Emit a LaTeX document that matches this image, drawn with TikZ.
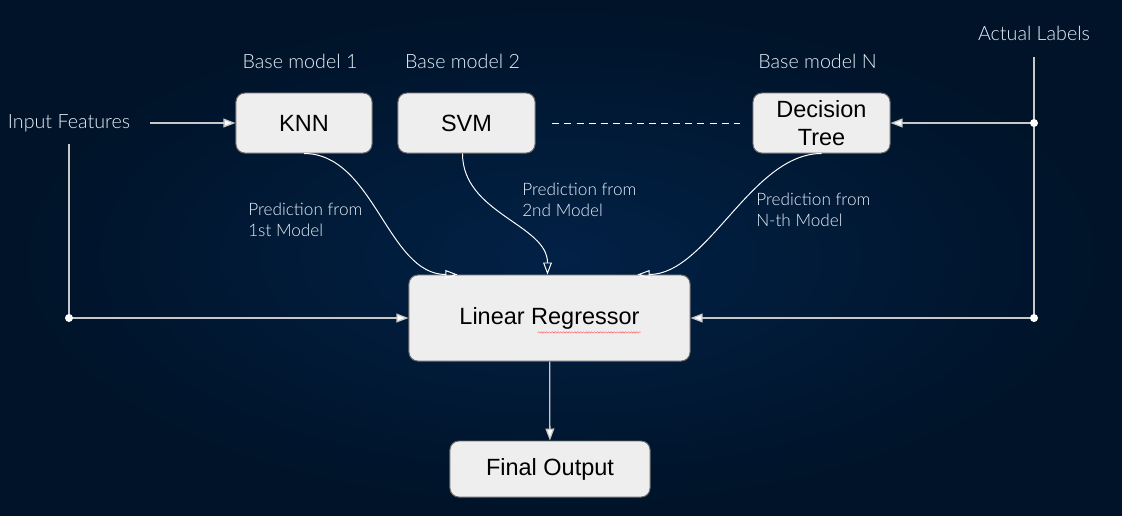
\documentclass[tikz,border=0pt]{standalone}
\usepackage{fontspec}
\setmainfont{Liberation Sans}
\newfontfamily\lblfont{Lato Light}
\usetikzlibrary{arrows.meta,positioning,decorations.pathmorphing}
\definecolor{bgin}{RGB}{2,33,70}
\definecolor{bgout}{RGB}{0,19,40}
\definecolor{boxfill}{RGB}{238,238,238}
\definecolor{boxline}{RGB}{105,105,105}
\definecolor{wire}{RGB}{200,200,200}
\definecolor{lbltext}{RGB}{232,240,250}

\begin{document}
\begin{tikzpicture}[
  x=0.025cm, y=-0.025cm,
  box/.style={rectangle, draw=boxline, fill=boxfill, rounded corners=0.22cm,
              line width=0.7pt, inner sep=0pt, align=center,
              font=\fontsize{16.7}{20}\selectfont, text=black},
  lbl/.style={text=lbltext, inner sep=0pt, font=\lblfont\fontsize{14}{16}\selectfont},
  note/.style={lbl, align=left, font=\lblfont\fontsize{12.2}{15}\selectfont},
  arr/.style={draw=wire, line width=0.9pt, -{Triangle[length=0.3cm,width=0.22cm,fill=white]}},
  curve/.style={draw=white, line width=0.7pt, -{Triangle[open,length=0.3cm,width=0.22cm]}},
  dot/.style={fill=white}
]
  \shade[inner color=bgin, outer color=bgout] (0,0) rectangle (1122,515);

  \node[box, minimum width=3.4cm, minimum height=1.5cm] (knn) at (304,123) {KNN};
  \node[box, minimum width=3.425cm, minimum height=1.5cm] (svm) at (466.5,123) {SVM};
  \node[box, minimum width=3.425cm, minimum height=1.5cm] (dt) at (821.5,123) {Decision\\Tree};
  \node[box, minimum width=7.025cm, minimum height=2.15cm] (lr) at (549.5,318) {Linear Regressor};
  \node[box, minimum width=5cm, minimum height=1.4cm] (out) at (550,469) {Final Output};

  \node[lbl, above=0.58cm of knn, xshift=-0.1cm] (bm1) {Base model 1};
  \node[lbl, above=0.58cm of svm, xshift=-0.1cm] (bm2) {Base model 2};
  \node[lbl, above=0.58cm of dt, xshift=-0.1cm] (bmn) {Base model N};
  \node[lbl] (in) at (69,123) {Input Features};
  \node[lbl] (al) at (1034,33) {Actual Labels};

  \node[note, anchor=west] (p1) at (248,220) {Prediction from\\1st Model};
  \node[note, anchor=west] (p2) at (522,200) {Prediction from\\2nd Model};
  \node[note, anchor=west] (pn) at (756,210) {Prediction from\\N-th Model};

  \coordinate (jl) at (in |- lr);
  \coordinate (ja) at (al |- dt);
  \coordinate (jb) at (al |- lr);

  \draw[arr] ([xshift=0.5cm]in.east) -- (knn);
  \draw[draw=wire, line width=0.9pt] ([yshift=-0.3cm]in.south) -- (jl);
  \draw[arr] (jl) -- (lr);
  \draw[draw=wire, line width=0.9pt] ([yshift=-0.4cm]al.south) -- (jb);
  \draw[arr] (ja) -- (dt);
  \draw[arr] (jb) -- (lr);
  \fill[dot] (jl) circle (0.1cm) (ja) circle (0.1cm) (jb) circle (0.1cm);

  \draw[draw=white, line width=0.7pt, dash pattern=on 5pt off 3.6pt]
    ([xshift=0.42cm]svm.east) -- ([xshift=-0.32cm]dt.west);

  \draw[curve] (knn.south) .. controls +(70,0) and +(-70,0) .. ([xshift=-2.3cm]lr.north);
  \draw[curve] ([xshift=-0.1cm]svm.south) .. controls +(0,60) and +(0,-50) .. ([xshift=-0.05cm]lr.north);
  \draw[curve] (dt.south) .. controls +(-70,0) and +(70,0) .. ([xshift=2.2cm]lr.north);

  \draw[arr] (lr) -- (out);

  \draw[red!65, line width=0.3pt, decorate, decoration={snake, amplitude=0.5pt, segment length=2pt}]
    ([xshift=-0.3cm,yshift=-0.36cm]lr.center) -- ([xshift=2.28cm,yshift=-0.36cm]lr.center);
\end{tikzpicture}
\end{document}
